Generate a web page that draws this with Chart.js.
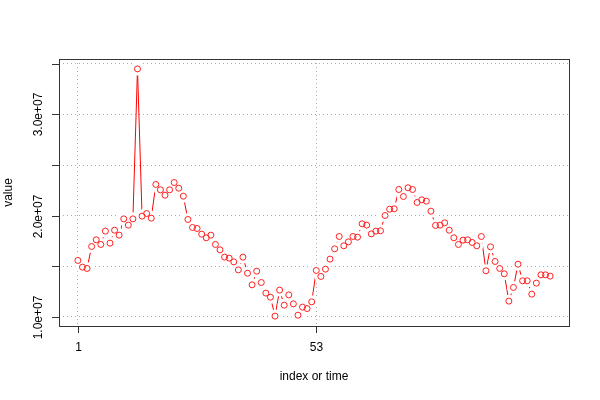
<!DOCTYPE html>
<html>
<head>
<meta charset="utf-8">
<script src="https://cdn.jsdelivr.net/npm/chart.js@4"></script>
<style>
  body { margin: 0; background: #fff; }
  #grafico { display: block; }
</style>
</head>
<body>
<canvas id="grafico" width="600" height="400"></canvas>
<script>
// Ticks dos eixos
const xTicks = [1, 53];
const xTickLabels = ["1", "53"];
const yTicks = [1.0e7, 1.5e7, 2.0e7, 2.5e7, 3.0e7, 3.5e7];
const yTickLabels = ["1.0e+07", "", "2.0e+07", "", "3.0e+07", ""];

// Série (índice 1..104)
const valores = [
  15570000, 14910000, 14780000, 16950000, 17610000, 17150000, 18470000, 17280000,
  18560000, 18070000, 19680000, 19060000, 19680000, 34500000, 19950000, 20210000,
  19750000, 23080000, 22550000, 22020000, 22550000, 23270000, 22710000, 21920000,
  19620000, 18830000, 18730000, 18170000, 17810000, 18070000, 17150000, 16620000,
  15900000, 15800000, 15430000, 14640000, 15900000, 14310000, 13160000, 14510000,
  13390000, 12340000, 11940000, 10070000, 12640000, 11150000, 12170000, 11280000,
  10160000, 10960000, 10820000, 11480000, 14580000, 13990000, 14710000, 15700000,
  16720000, 17940000, 17020000, 17410000, 17940000, 17870000, 19190000, 19060000,
  18200000, 18470000, 18500000, 20010000, 20640000, 20670000, 22580000, 21890000,
  22750000, 22580000, 21300000, 21560000, 21430000, 20440000, 19030000, 19060000,
  19290000, 18560000, 17810000, 17150000, 17580000, 17610000, 17350000, 17020000,
  17940000, 14550000, 16920000, 15470000, 14780000, 14250000, 11550000, 12900000,
  15200000, 13560000, 13560000, 12240000, 13330000, 14150000, 14150000, 14020000,
];

const tituloX = "index or time";
const tituloY = "value";

// Faixas dos eixos como no R (4% de folga)
const n = valores.length;
const yMin = Math.min(...valores);
const yMax = Math.max(...valores);
const xPad = (n - 1) * 0.04;
const yPad = (yMax - yMin) * 0.04;

const pontos = valores.map((v, i) => ({ x: i + 1, y: v }));
const fonte = '"Liberation Sans", Arial, sans-serif';

// Plugin para caixa, marcas e textos no estilo R
const estiloR = {
  id: "estiloR",
  afterDraw(chart) {
    const ctx = chart.ctx;
    const area = chart.chartArea;
    const sx = chart.scales.x;
    const sy = chart.scales.y;
    ctx.save();
    ctx.strokeStyle = "#333";
    ctx.lineWidth = 1;
    ctx.strokeRect(Math.round(area.left) + 0.5, Math.round(area.top) + 0.5,
      Math.round(area.right - area.left), Math.round(area.bottom - area.top));

    ctx.fillStyle = "#000";
    ctx.font = "12px " + fonte;

    // eixo x
    ctx.textAlign = "center";
    ctx.textBaseline = "middle";
    xTicks.forEach((t, i) => {
      const px = Math.round(sx.getPixelForValue(t)) + 0.5;
      ctx.beginPath();
      ctx.moveTo(px, area.bottom);
      ctx.lineTo(px, area.bottom + 7);
      ctx.stroke();
      ctx.fillText(xTickLabels[i], px, area.bottom + 22);
    });
    ctx.fillText(tituloX, (area.left + area.right) / 2, 377);

    // eixo y
    yTicks.forEach((t, i) => {
      const py = Math.round(sy.getPixelForValue(t)) + 0.5;
      ctx.beginPath();
      ctx.moveTo(area.left - 7, py);
      ctx.lineTo(area.left, py);
      ctx.stroke();
      if (yTickLabels[i]) {
        ctx.save();
        ctx.translate(39, py);
        ctx.rotate(-Math.PI / 2);
        ctx.fillText(yTickLabels[i], 0, 0);
        ctx.restore();
      }
    });
    ctx.save();
    ctx.translate(9, (area.top + area.bottom) / 2);
    ctx.rotate(-Math.PI / 2);
    ctx.fillText(tituloY, 0, 0);
    ctx.restore();
    ctx.restore();
  },
};

new Chart(document.getElementById("grafico"), {
  type: "line",
  data: {
    datasets: [
      {
        // círculos (desenhados por cima)
        data: pontos,
        showLine: false,
        pointRadius: 3,
        pointBorderWidth: 1,
        pointBorderColor: "#ff2020",
        pointBackgroundColor: "rgba(0,0,0,0)",
      },
      {
        // linha com "buracos" em volta dos pontos, como type = "b"
        data: pontos,
        borderColor: "#ff0000",
        borderWidth: 1,
        pointRadius: 6.5,
        pointBorderWidth: 0,
        pointBorderColor: "#ffffff",
        pointBackgroundColor: "#ffffff",
        tension: 0,
      },
    ],
  },
  options: {
    responsive: false,
    animation: false,
    devicePixelRatio: 1,
    layout: { padding: { top: 59, right: 31, left: 0, bottom: 0 } },
    plugins: {
      legend: { display: false },
      tooltip: { enabled: false },
    },
    scales: {
      x: {
        type: "linear",
        z: 1,
        min: 1 - xPad,
        max: n + xPad,
        afterBuildTicks: (scale) => {
          scale.ticks = xTicks.map((v) => ({ value: v }));
        },
        afterFit: (scale) => {
          scale.height = 74;
        },
        ticks: { display: false },
        grid: { color: "#aaaaaa", drawTicks: false, lineWidth: 1 },
        border: { display: false, dash: [1, 3] },
      },
      y: {
        type: "linear",
        z: 1,
        min: yMin - yPad,
        max: yMax + yPad,
        afterBuildTicks: (scale) => {
          scale.ticks = yTicks.map((v) => ({ value: v }));
        },
        afterFit: (scale) => {
          scale.width = 59;
        },
        ticks: { display: false },
        grid: { color: "#aaaaaa", drawTicks: false, lineWidth: 1 },
        border: { display: false, dash: [1, 3] },
      },
    },
  },
  plugins: [estiloR],
});
</script>
</body>
</html>
